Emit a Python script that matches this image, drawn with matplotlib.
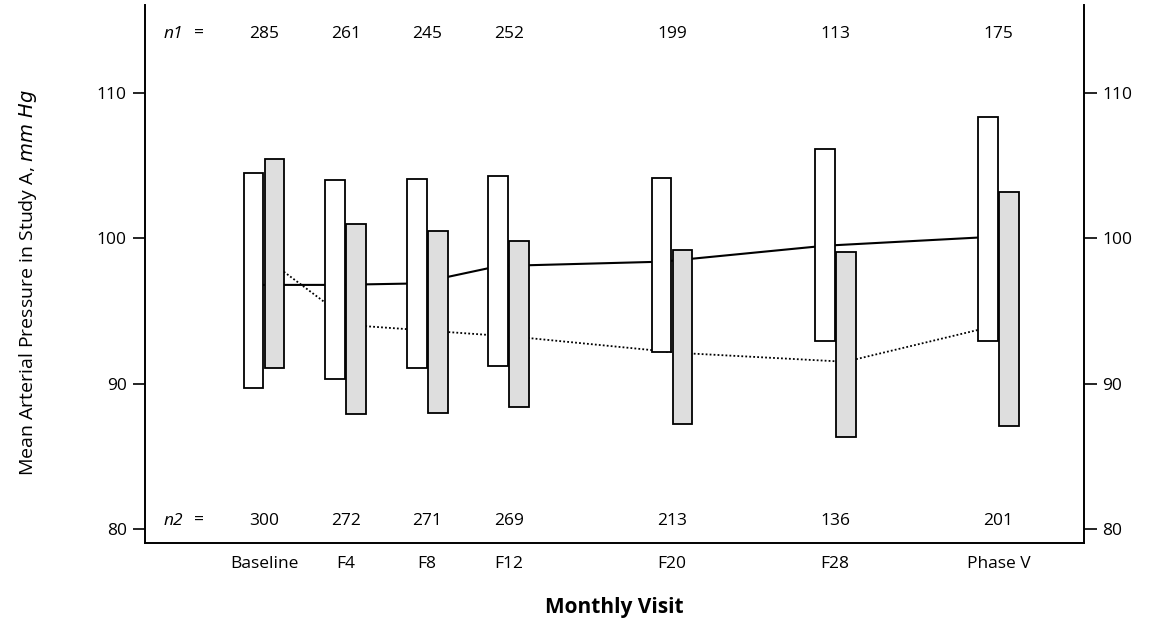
import numpy as np
import matplotlib
matplotlib.use("Agg")
import matplotlib.pyplot as plt

plt.rcParams['font.family'] = ['Open Sans', 'DejaVu Sans']

# visit labels and month positions
visits = ["Baseline", "F4", "F8", "F12", "F20", "F28", "Phase V"]
months = [0, 4, 8, 12, 20, 28, 36]

# group 1 (white boxes, solid line)
low1 = [89.7, 90.3, 91.1, 91.2, 92.2, 92.9, 92.9]
high1 = [104.5, 104.0, 104.1, 104.3, 104.2, 106.2, 108.4]
mean1 = [96.8, 96.8, 96.9, 98.1, 98.4, 99.5, 100.1]
n1 = [285, 261, 245, 252, 199, 113, 175]

# group 2 (gray boxes, dotted line)
low2 = [91.1, 87.9, 88.0, 88.4, 87.2, 86.3, 87.1]
high2 = [105.5, 101.0, 100.5, 99.8, 99.2, 99.1, 103.2]
mean2 = [98.2, 94.0, 93.6, 93.2, 92.1, 91.5, 94.2]
n2 = [300, 272, 271, 269, 213, 136, 201]

x = np.array(months, dtype=float)
fs = 12.5

fig = plt.figure(figsize=(11.56, 6.21), dpi=100)
ax = fig.add_axes([0.1254, 0.1248, 0.9377 - 0.1254, 0.992 - 0.1248])

# mean lines (behind the boxes)
ax.plot(x - 0.5, mean1, color="black", lw=1.5, ls="-", zorder=1)
ax.plot(x + 0.5, mean2, color="black", lw=1.3, ls=(0, (1, 1.2)), zorder=1)

# boxes
h1 = np.array(high1) - np.array(low1)
h2 = np.array(high2) - np.array(low2)
ax.bar(x - 1.0, h1, bottom=low1, width=0.97, align="edge",
       facecolor="white", edgecolor="black", linewidth=1.3, zorder=2)
ax.bar(x + 0.03, h2, bottom=low2, width=0.97, align="edge",
       facecolor="#dedede", edgecolor="black", linewidth=1.3, zorder=2)

# sample sizes
ax.text(-4.95, 114.1, "n1", style="italic", ha="left", va="center", fontsize=fs)
ax.text(-3.45, 114.1, "=", ha="left", va="center", fontsize=fs)
ax.text(-4.95, 80.5, "n2", style="italic", ha="left", va="center", fontsize=fs)
ax.text(-3.45, 80.5, "=", ha="left", va="center", fontsize=fs)
for xi, a, b in zip(x, n1, n2):
    ax.text(xi, 114.1, str(a), ha="center", va="center", fontsize=fs)
    ax.text(xi, 80.5, str(b), ha="center", va="center", fontsize=fs)

# axes
ax.set_xlim(-5.84, 40.2)
ax.set_ylim(78.97, 116.1)
ax.spines["top"].set_visible(False)
for s in ["left", "right", "bottom"]:
    ax.spines[s].set_linewidth(1.4)

ax.set_xticks(x)
ax.set_xticklabels(visits, fontsize=fs)
ax.tick_params(axis="x", length=0, pad=9)
ax.set_yticks([80, 90, 100, 110])
ax.tick_params(axis="y", length=9, width=1.2, labelsize=fs, direction="out",
               right=True, labelright=True, pad=4)

ax.set_xlabel("Monthly Visit", fontsize=15, fontweight="bold", labelpad=18)
ax.set_ylabel("Mean Arterial Pressure in Study A, $\\it{mm\\ Hg}$", fontsize=14)
ax.yaxis.set_label_coords(-0.113, 0.484)

plt.savefig("out.png", dpi=100)
